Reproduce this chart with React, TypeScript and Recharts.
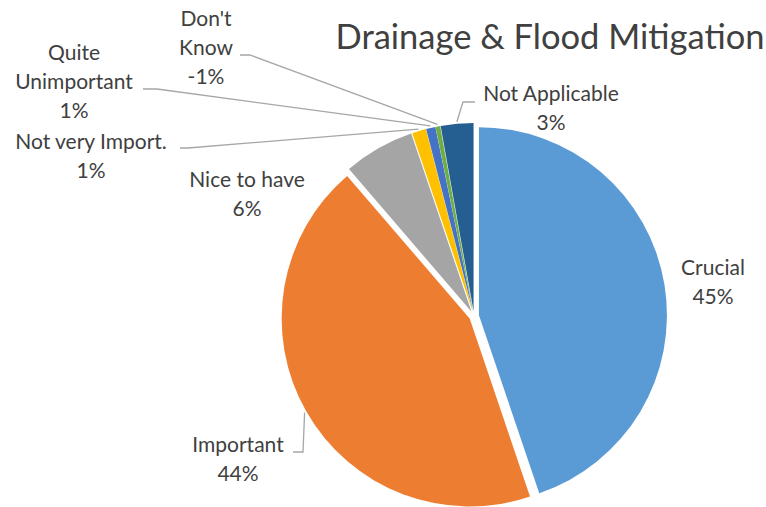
import React from 'react';
import { PieChart, Pie, Cell, Sector } from 'recharts';

// answers, clockwise from 12 o'clock
const categories = ['Crucial', 'Important', 'Nice to have', 'Not very Import.', 'Quite Unimportant', "Don't Know", 'Not Applicable'];
const shares = [44.8, 43.9, 6.1, 1.2, 0.8, 0.4, 2.8];
const percentLabels = ['45%', '44%', '6%', '1%', '1%', '-1%', '3%'];
const colors = ['#5B9BD5', '#ED7D31', '#A5A5A5', '#FFC000', '#4472C4', '#70AD47', '#255E91'];

const W = 766;
const H = 507;
const CX = 474;
const CY = 316;
const R = 188;
const EXPLODE = 5;
const RAD = Math.PI / 180;
const TEXT = '#404040';
const FONT = 'Lato, "Open Sans", sans-serif';
const FONT_SIZE = 21;
const LINE_H = 29;

// label text lines + placement relative to pie centre; lead = leader start and elbow
const labelLayout: { lines: string[]; dx: number; dy: number; lead?: [number, number, number] }[] = [
  { lines: ['Crucial'], dx: 239, dy: -41 },
  { lines: ['Important'], dx: -236, dy: 136, lead: [-181, 136, -171] },
  { lines: ['Nice to have'], dx: -227, dy: -129 },
  { lines: ['Not very Import.'], dx: -383, dy: -167, lead: [-294, -168, -286] },
  { lines: ['Quite', 'Unimportant'], dx: -400, dy: -256, lead: [-331, -227, -317] },
  { lines: ["Don't", 'Know'], dx: -268, dy: -290, lead: [-234, -261, -224] },
  { lines: ['Not Applicable'], dx: 77, dy: -215, lead: [1, -214, -11] },
];

const data = categories.map((name, i) => ({ name, value: shares[i], pct: percentLabels[i] }));

function offset(midAngle: number) {
  return {
    ox: EXPLODE * Math.cos(-midAngle * RAD),
    oy: EXPLODE * Math.sin(-midAngle * RAD),
  };
}

const ExplodedSector = (props: any) => {
  const { ox, oy } = offset(props.midAngle);
  return <Sector {...props} cx={props.cx + ox} cy={props.cy + oy} stroke="none" />;
};

const renderLabel = (props: any) => {
  const { cx, cy, midAngle, outerRadius, index } = props;
  const lay = labelLayout[index];
  const { ox, oy } = offset(midAngle);
  const ax = cx + ox + (outerRadius + 2) * Math.cos(-midAngle * RAD);
  const ay = cy + oy + (outerRadius + 2) * Math.sin(-midAngle * RAD);
  const tx = cx + lay.dx;
  const ty = cy + lay.dy;
  const lines = [...lay.lines, data[index].pct];
  return (
    <g>
      {lay.lead && (
        <polyline
          points={`${cx + lay.lead[0]},${cy + lay.lead[1]} ${cx + lay.lead[2]},${cy + lay.lead[1]} ${ax},${ay}`}
          fill="none"
          stroke="#A6A6A6"
          strokeWidth={1.3}
        />
      )}
      <text x={tx} y={ty} textAnchor="middle" fill={TEXT} fontFamily={FONT} fontSize={FONT_SIZE}>
        {lines.map((l, i) => (
          <tspan key={i} x={tx} y={ty + i * LINE_H}>
            {l}
          </tspan>
        ))}
      </text>
    </g>
  );
};

export default function App() {
  return (
    <div style={{ position: 'absolute', left: 0, top: 0, width: W, height: H, background: '#fff' }}>
      <PieChart width={W} height={H} margin={{ top: 0, right: 0, bottom: 0, left: 0 }}>
        <Pie
          data={data}
          dataKey="value"
          nameKey="name"
          cx={CX}
          cy={CY}
          outerRadius={R}
          startAngle={90}
          endAngle={-270}
          shape={ExplodedSector}
          activeShape={ExplodedSector}
          label={renderLabel}
          labelLine={false}
          isAnimationActive={false}
        >
          {data.map((d, i) => (
            <Cell key={d.name} fill={colors[i]} />
          ))}
        </Pie>
      </PieChart>
      <svg width={W} height={H} style={{ position: 'absolute', left: 0, top: 0, pointerEvents: 'none' }}>
        <text x={550} y={49} textAnchor="middle" fill={TEXT} fontFamily={FONT} fontSize={34.5}>
          Drainage &amp; Flood Mitigation
        </text>
      </svg>
    </div>
  );
}
